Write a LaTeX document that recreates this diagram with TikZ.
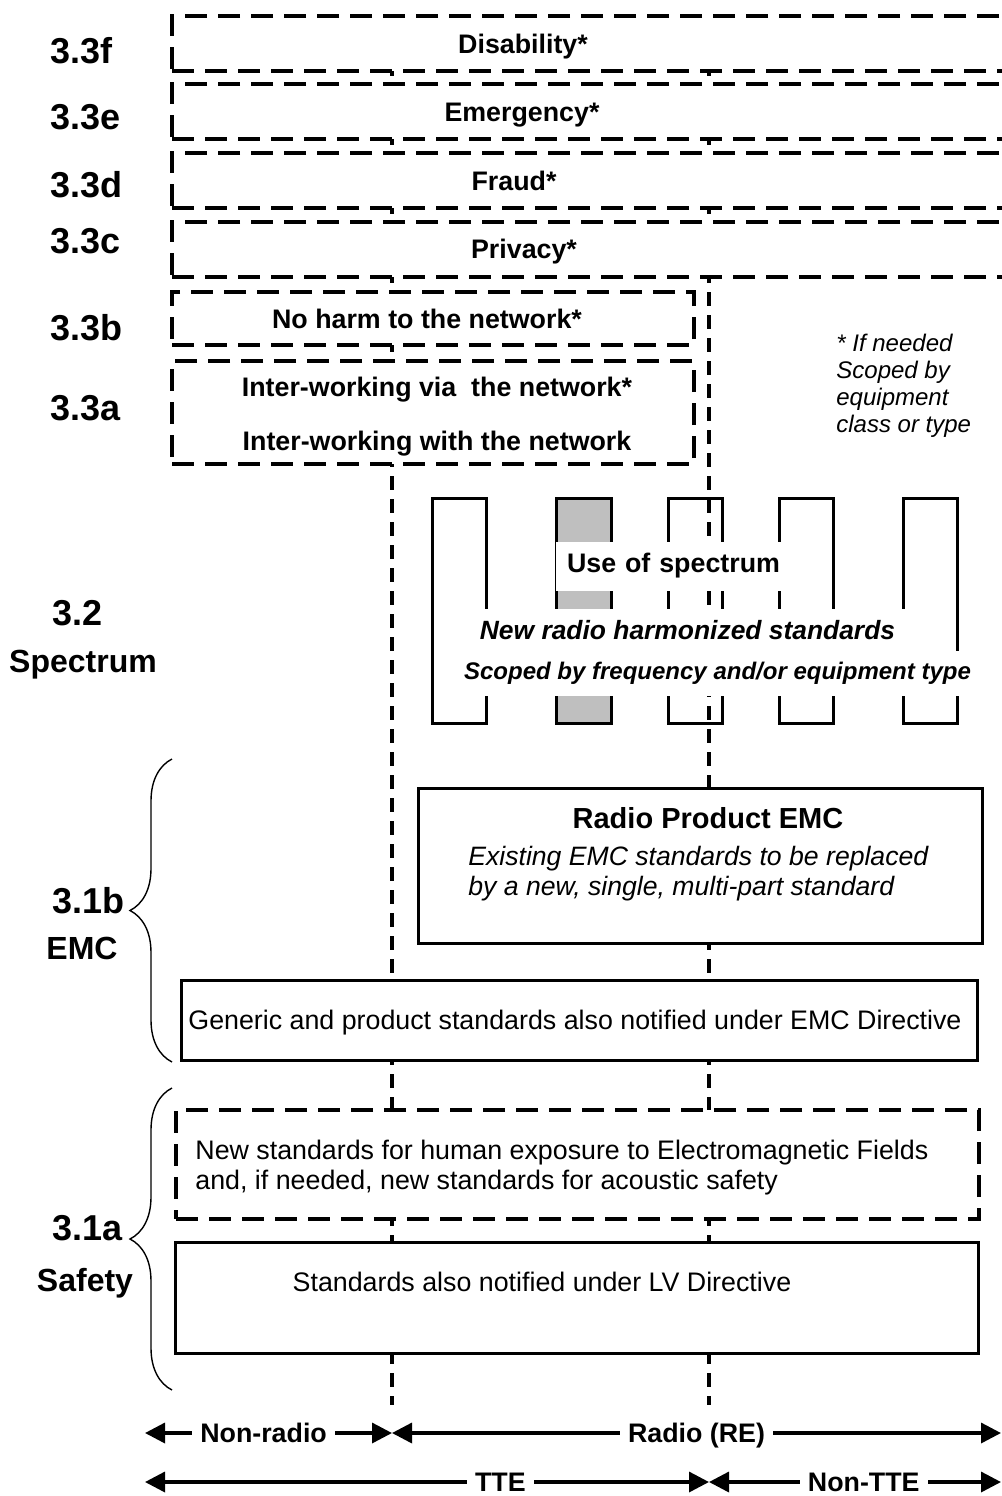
\documentclass[tikz,border=0pt]{standalone}
\usepackage{fontspec}
\setmainfont{Liberation Sans}
\usetikzlibrary{arrows.meta,decorations.pathreplacing}

\tikzset{
  dbox/.style={draw, fill=white, line width=2pt, dash pattern=on 11pt off 5.5pt, inner sep=0pt},
  sbox/.style={draw, fill=white, line width=1.5pt, inner sep=0pt},
  divider/.style={line width=2pt, dash pattern=on 7pt off 4.5pt},
  tooth/.style={line width=1.5pt},
  txt/.style={font=\fontsize{13.4}{15}\selectfont, inner sep=0pt},
  btxt/.style={font=\fontsize{13.4}{15}\selectfont\bfseries, inner sep=0pt},
  itxt/.style={font=\fontsize{13.3}{15}\selectfont\itshape, inner sep=0pt},
  sec/.style={font=\fontsize{18}{20}\selectfont\bfseries, anchor=base west, inner sep=0pt},
  secword/.style={font=\fontsize{16}{18}\selectfont\bfseries, anchor=base, inner sep=0pt},
  brace/.style={decorate, decoration={brace, amplitude=21pt}, line width=0.7pt},
  span/.style={<->, line width=1.7pt},
  spanlbl/.style={btxt, fill=white, inner xsep=4pt, inner ysep=3pt, text height=9.6pt, text depth=0pt}
}

\begin{document}
\begin{tikzpicture}[x=0.5pt, y=-0.5pt, >={Triangle[length=10pt,width=10pt]}]
	\useasboundingbox (0,0) rectangle (1002,1496);

	% column dividers
	\coordinate (nrT) at (392,16);
	\coordinate (nrB) at (392,1405);
	\coordinate (tteT) at (709,16);
	\coordinate (tteB) at (709,1405);
	\draw [divider] (nrT) -- (nrB);
	\draw [divider] (tteT) -- (tteB);

	% 3.3 essential requirements
	\node [dbox, minimum width=424pt, minimum height=27.5pt] (dis) at (596,43.5) {};
	\node [btxt, anchor=base] (distxt) at (523,53) {Disability*};
	\node [dbox, minimum width=424pt, minimum height=27.5pt] (emg) at (596,111.5) {};
	\node [btxt, anchor=base] (emgtxt) at (522,121) {Emergency*};
	\node [dbox, minimum width=424pt, minimum height=27.5pt] (frd) at (596,180.5) {};
	\node [btxt, anchor=base] (frdtxt) at (514,190) {Fraud*};
	\node [dbox, minimum width=424pt, minimum height=27.5pt] (prv) at (596,249.5) {};
	\node [btxt, anchor=base] (prvtxt) at (524,258) {Privacy*};
	\node [dbox, minimum width=261pt, minimum height=26.5pt] (harm) at (433,318.5) {};
	\node [btxt, anchor=base] (harmtxt) at (427,328) {No harm to the network*};
	\node [dbox, minimum width=261pt, minimum height=51.5pt] (iw) at (433,412.5) {};
	\node [btxt, anchor=base] (iwvia) at (437,396) {Inter-working via~ the network*};
	\node [btxt, anchor=base] (iwwith) at (437,450) {Inter-working with the network};

	\node [itxt, font=\fontsize{12}{13.5}\selectfont\itshape, anchor=north west, align=left] (note) at (836,334)
		{* If needed\\Scoped by\\equipment\\class or type};

	% 3.2 spectrum
	\foreach \x in {432,668,779,903}
		\draw [tooth] (\x,498) rectangle ++(54,225);
	\draw [tooth, fill=gray!50] (556,498) rectangle ++(55,225);
	\node [btxt, fill=white, minimum width=114.5pt, minimum height=24.5pt, text width=109.5pt, align=right] (use) at (670.5,566) {Use of spectrum};
	\node [btxt, font=\fontsize{13.2}{15}\selectfont\bfseries\itshape, fill=white, minimum width=220pt, minimum height=21pt] (newrad) at (687.5,630) {New radio harmonized standards};
	\node [btxt, font=\fontsize{12}{14}\selectfont\bfseries\itshape, fill=white, minimum width=265pt, minimum height=22.5pt] (scoped) at (717.5,673) {Scoped by frequency and/or equipment type};

	% 3.1b EMC
	\node [sbox, minimum width=282pt, minimum height=77.5pt] (rpemc) at (700,865.5) {};
	\node [btxt, font=\fontsize{14.5}{16}\selectfont\bfseries, anchor=base] (rptitle) at (708,828) {Radio Product EMC};
	\node [itxt, anchor=north west, align=left] (rpnote) at (468,846)
		{Existing EMC standards to be replaced\\by a new, single, multi-part standard};
	\node [sbox, minimum width=398pt, minimum height=40pt] (gen) at (579,1020) {};
	\node [txt, anchor=base west] (gentxt) at (188,1029) {Generic and product standards also notified under EMC Directive};

	% 3.1a safety
	\node [dbox, minimum width=401.5pt, minimum height=54.5pt] (emf) at (577.5,1164.5) {};
	\node [txt, anchor=north west, align=left] (emftxt) at (195,1140)
		{New standards for human exposure to Electromagnetic Fields\\and, if needed, new standards for acoustic safety};
	\node [sbox, minimum width=401.5pt, minimum height=55.5pt] (lv) at (576.5,1297.5) {};
	\node [txt, anchor=base] (lvtxt) at (542,1291) {Standards also notified under LV Directive};

	% braces
	\draw [brace] (172,1062) -- (172,759);
	\draw [brace] (172,1390) -- (172,1088);

	% section labels
	\node [sec] (s33f) at (50,63) {3.3f};
	\node [sec] (s33e) at (50,129) {3.3e};
	\node [sec] (s33d) at (50,197) {3.3d};
	\node [sec] (s33c) at (50,253) {3.3c};
	\node [sec] (s33b) at (50,340) {3.3b};
	\node [sec] (s33a) at (50,420) {3.3a};
	\node [sec] (s32) at (52,625) {3.2};
	\node [secword] (spec) at (83,672) {Spectrum};
	\node [sec] (s31b) at (52,913) {3.1b};
	\node [secword] (emc) at (82,959) {EMC};
	\node [sec] (s31a) at (52,1240) {3.1a};
	\node [secword] (safe) at (85,1291) {Safety};

	% scope arrows
	\coordinate (nrL) at (145,1433);
	\coordinate (nrR) at (392,1433);
	\coordinate (reR) at (1001,1433);
	\coordinate (tteL) at (145,1482);
	\coordinate (tteR) at (709,1482);
	\coordinate (ntteR) at (1001,1482);
	\path [span] (nrL) edge node [spanlbl, pos=.48] (nrlbl) {Non-radio} (nrR);
	\path [span] (nrR) edge node [spanlbl, pos=.5] (relbl) {Radio (RE)} (reR);
	\path [span] (tteL) edge node [spanlbl, pos=.63] (ttelbl) {TTE} (tteR);
	\path [span] (tteR) edge node [spanlbl, pos=.53] (ntlbl) {Non-TTE} (ntteR);
\end{tikzpicture}
\end{document}
